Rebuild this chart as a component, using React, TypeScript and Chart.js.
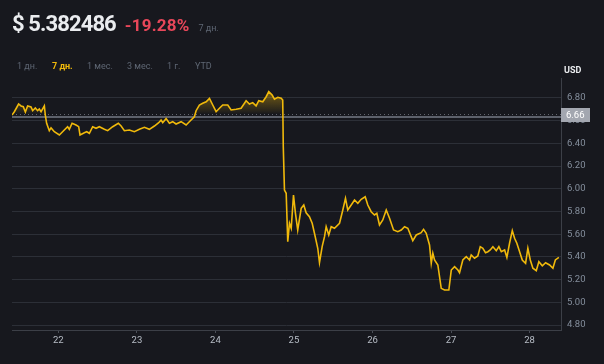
import React, { useEffect, useRef } from "react";
import { Chart, registerables } from "chart.js";

Chart.register(...registerables);

// ---- data ----
const days: number[] = [
  21.41, 21.44, 21.494, 21.525, 21.554, 21.58, 21.609, 21.652, 21.673, 21.707,
  21.736, 21.758, 21.78, 21.822, 21.834, 21.851, 21.885, 21.907, 21.949, 22.013,
  22.076, 22.118, 22.14, 22.175, 22.225, 22.259, 22.276, 22.331, 22.361, 22.395,
  22.437, 22.48, 22.522, 22.586, 22.628, 22.692, 22.764, 22.799, 22.841, 22.904,
  22.968, 23.032, 23.096, 23.159, 23.223, 23.278, 23.308, 23.329, 23.372, 23.414,
  23.456, 23.499, 23.563, 23.627, 23.69, 23.732, 23.754, 23.796, 23.838, 23.882,
  23.924, 23.966, 24.009, 24.051, 24.093, 24.157, 24.2, 24.264, 24.327, 24.391,
  24.433, 24.475, 24.518, 24.552, 24.603, 24.646, 24.679, 24.722, 24.752, 24.794,
  24.837, 24.857, 24.864, 24.879, 24.901, 24.921, 24.943, 24.965, 24.994, 25.019,
  25.048, 25.092, 25.125, 25.155, 25.197, 25.232, 25.261, 25.303, 25.325, 25.359,
  25.389, 25.41, 25.443, 25.474, 25.516, 25.58, 25.622, 25.656, 25.685, 25.729,
  25.771, 25.813, 25.856, 25.907, 25.94, 25.983, 26.025, 26.055, 26.089, 26.131,
  26.175, 26.217, 26.268, 26.322, 26.366, 26.408, 26.45, 26.513, 26.557, 26.62,
  26.65, 26.684, 26.726, 26.748, 26.768, 26.79, 26.832, 26.875, 26.917, 26.972,
  27.003, 27.045, 27.087, 27.108, 27.15, 27.194, 27.236, 27.257, 27.299, 27.341,
  27.372, 27.405, 27.439, 27.469, 27.499, 27.533, 27.576, 27.609, 27.64, 27.682,
  27.711, 27.745, 27.78, 27.809, 27.838, 27.873, 27.907, 27.949, 27.978, 28.009,
  28.042, 28.085, 28.118, 28.162, 28.204, 28.255, 28.297, 28.328, 28.373,
];

const prices: number[] = [
  6.65, 6.679, 6.747, 6.73, 6.723, 6.677, 6.73, 6.721, 6.688, 6.712,
  6.688, 6.703, 6.679, 6.73, 6.65, 6.577, 6.512, 6.536, 6.503, 6.474,
  6.518, 6.547, 6.524, 6.577, 6.562, 6.547, 6.474, 6.494, 6.503, 6.489,
  6.547, 6.533, 6.547, 6.524, 6.512, 6.547, 6.577, 6.553, 6.512, 6.518,
  6.503, 6.524, 6.542, 6.524, 6.553, 6.582, 6.606, 6.582, 6.618, 6.577,
  6.591, 6.571, 6.591, 6.562, 6.606, 6.635, 6.688, 6.738, 6.753, 6.767,
  6.797, 6.738, 6.679, 6.709, 6.738, 6.738, 6.694, 6.7, 6.709, 6.776,
  6.747, 6.759, 6.73, 6.776, 6.767, 6.811, 6.856, 6.826, 6.789, 6.806,
  6.797, 6.782, 6.371, 5.989, 5.96, 5.534, 5.696, 5.652, 5.945, 5.784,
  5.637, 5.828, 5.857, 5.789, 5.754, 5.696, 5.608, 5.476, 5.349, 5.49,
  5.578, 5.666, 5.593, 5.666, 5.652, 5.696, 5.813, 5.916, 5.813, 5.857,
  5.901, 5.872, 5.907, 5.93, 5.857, 5.798, 5.769, 5.784, 5.681, 5.725,
  5.813, 5.74, 5.637, 5.622, 5.637, 5.666, 5.652, 5.543, 5.593, 5.613,
  5.643, 5.608, 5.505, 5.344, 5.432, 5.373, 5.329, 5.123, 5.108, 5.108,
  5.284, 5.314, 5.284, 5.261, 5.373, 5.402, 5.373, 5.417, 5.388, 5.408,
  5.49, 5.476, 5.437, 5.446, 5.461, 5.49, 5.455, 5.49, 5.446, 5.461,
  5.396, 5.52, 5.631, 5.564, 5.52, 5.446, 5.373, 5.344, 5.476, 5.373,
  5.3, 5.279, 5.358, 5.321, 5.349, 5.329, 5.3, 5.373, 5.396,
];

const openPrice = 6.66;
const xTickDays: number[] = [22, 23, 24, 25, 26, 27, 28];
const periodTabs: string[] = ["1 дн.", "7 дн.", "1 мес.", "3 мес.", "1 г.", "YTD"];
const activeTab = "7 дн.";
const lastPrice = "$ 5.382486";
const changePct = "-19.28%";
const periodLabel = "7 дн.";
const currency = "USD";

const BG = "#17181e";
const GOLD = "#f0b90b";
const GRID = "#2c2f37";
const FONT = "Roboto, 'Noto Sans', sans-serif";

const tabLeft: number[] = [17, 52, 87, 127, 167, 195];

export default function App() {
  const canvasRef = useRef<HTMLCanvasElement | null>(null);

  useEffect(() => {
    document.body.style.margin = "0";
    document.body.style.background = BG;
    const canvas = canvasRef.current;
    if (!canvas) return;

    const refLinePlugin = {
      id: "refLine",
      beforeDatasetsDraw(chart: any) {
        const { ctx, chartArea } = chart;
        const y = chart.scales.y.getPixelForValue(openPrice);
        ctx.save();
        // dotted baseline
        ctx.strokeStyle = "rgba(150,155,165,0.6)";
        ctx.lineWidth = 1;
        ctx.setLineDash([1, 3]);
        ctx.beginPath();
        ctx.moveTo(chartArea.left, Math.round(y) + 0.5);
        ctx.lineTo(chartArea.right, Math.round(y) + 0.5);
        ctx.stroke();
        // solid grey price line
        ctx.setLineDash([]);
        ctx.strokeStyle = "#5d616b";
        ctx.lineWidth = 2;
        ctx.beginPath();
        ctx.moveTo(chartArea.left, Math.round(y) + 3);
        ctx.lineTo(chartArea.right, Math.round(y) + 3);
        ctx.stroke();
        ctx.restore();
      },
      afterDraw(chart: any) {
        const { ctx, chartArea } = chart;
        const y = chart.scales.y.getPixelForValue(openPrice);
        ctx.save();
        ctx.fillStyle = "#a3a7b0";
        ctx.fillRect(chartArea.right, Math.round(y) - 6, 29, 14);
        ctx.fillStyle = "#ffffff";
        ctx.font = `9.5px ${FONT}`;
        ctx.textBaseline = "middle";
        ctx.textAlign = "left";
        ctx.fillText(openPrice.toFixed(2), chartArea.right + 5, Math.round(y) + 1.5);
        ctx.restore();
      },
    };

    const chart = new Chart(canvas, {
      type: "line",
      data: {
        datasets: [
          {
            data: days.map((d, i) => ({ x: d, y: prices[i] })),
            borderColor: GOLD,
            borderWidth: 1.6,
            pointRadius: 0,
            tension: 0,
            fill: { target: { value: openPrice }, below: "rgba(0,0,0,0)" } as any,
            backgroundColor: (context: any) => {
              const c = context.chart;
              const area = c.chartArea;
              if (!area || !c.scales.y) return "rgba(0,0,0,0)";
              const yb = c.scales.y.getPixelForValue(openPrice);
              const g = c.ctx.createLinearGradient(0, area.top + 8, 0, yb);
              g.addColorStop(0, "rgba(240,185,11,0.55)");
              g.addColorStop(1, "rgba(240,185,11,0.02)");
              return g;
            },
          },
        ],
      },
      options: {
        responsive: false,
        animation: false,
        devicePixelRatio: 1,
        layout: { padding: { top: 78, left: 12, right: 0, bottom: 0 } },
        plugins: { legend: { display: false }, tooltip: { enabled: false } },
        scales: {
          x: {
            type: "linear",
            min: 21.41,
            max: 28.4,
            afterFit: (s: any) => {
              s.height = 34;
            },
            afterBuildTicks: (s: any) => {
              s.ticks = xTickDays.map((v) => ({ value: v }));
            },
            ticks: {
              color: "#b7bdc6",
              font: { size: 9.5, family: FONT },
              padding: 2,
              maxRotation: 0,
              callback: (v: any) => String(v),
            },
            grid: {
              drawOnChartArea: false,
              drawTicks: true,
              tickLength: 3,
              color: "#4a4e57",
            },
            border: { display: true, color: "#3c3f47", width: 1 },
          },
          y: {
            type: "linear",
            position: "right",
            min: 4.756,
            max: 6.976,
            afterFit: (s: any) => {
              s.width = 43;
            },
            ticks: {
              stepSize: 0.2,
              includeBounds: false,
              color: "#848e9c",
              font: { size: 9.5, family: FONT },
              padding: 6,
              callback: (v: any) => Number(v).toFixed(2),
            },
            grid: { color: GRID, drawTicks: false, lineWidth: 1 },
            border: { display: true, color: "#3c3f47", width: 1 },
          },
        },
      },
      plugins: [refLinePlugin],
    });

    return () => chart.destroy();
  }, []);

  return (
    <div
      style={{
        position: "fixed",
        left: 0,
        top: 0,
        width: 604,
        height: 364,
        background: BG,
        overflow: "hidden",
        fontFamily: FONT,
      }}
    >
      <canvas
        ref={canvasRef}
        width={604}
        height={364}
        style={{ position: "absolute", left: 0, top: 0, width: 604, height: 364 }}
      />
      <div
        style={{
          position: "absolute",
          left: 12,
          top: 13,
          fontSize: 22,
          lineHeight: "22px",
          fontWeight: 700,
          whiteSpace: "nowrap",
        }}
      >
        <span style={{ color: "#eaecef", letterSpacing: -0.9 }}>{lastPrice}</span>
        <span style={{ color: "#e8475a", marginLeft: 9, fontSize: 17, letterSpacing: 0.2 }}>
          {changePct}
        </span>
        <span
          style={{
            color: "#5e6673",
            fontSize: 9,
            fontWeight: 400,
            marginLeft: 9,
          }}
        >
          {periodLabel}
        </span>
      </div>
      {periodTabs.map((t, i) => (
        <div
          key={t}
          style={{
            position: "absolute",
            left: tabLeft[i],
            top: 60,
            fontSize: 9,
            lineHeight: "12px",
            color: t === activeTab ? GOLD : "#5e6673",
            fontWeight: t === activeTab ? 700 : 400,
            whiteSpace: "nowrap",
          }}
        >
          {t}
        </div>
      ))}
      <div
        style={{
          position: "absolute",
          left: 564,
          top: 64,
          fontSize: 9,
          lineHeight: "12px",
          fontWeight: 700,
          color: "#eaecef",
        }}
      >
        {currency}
      </div>
    </div>
  );
}
